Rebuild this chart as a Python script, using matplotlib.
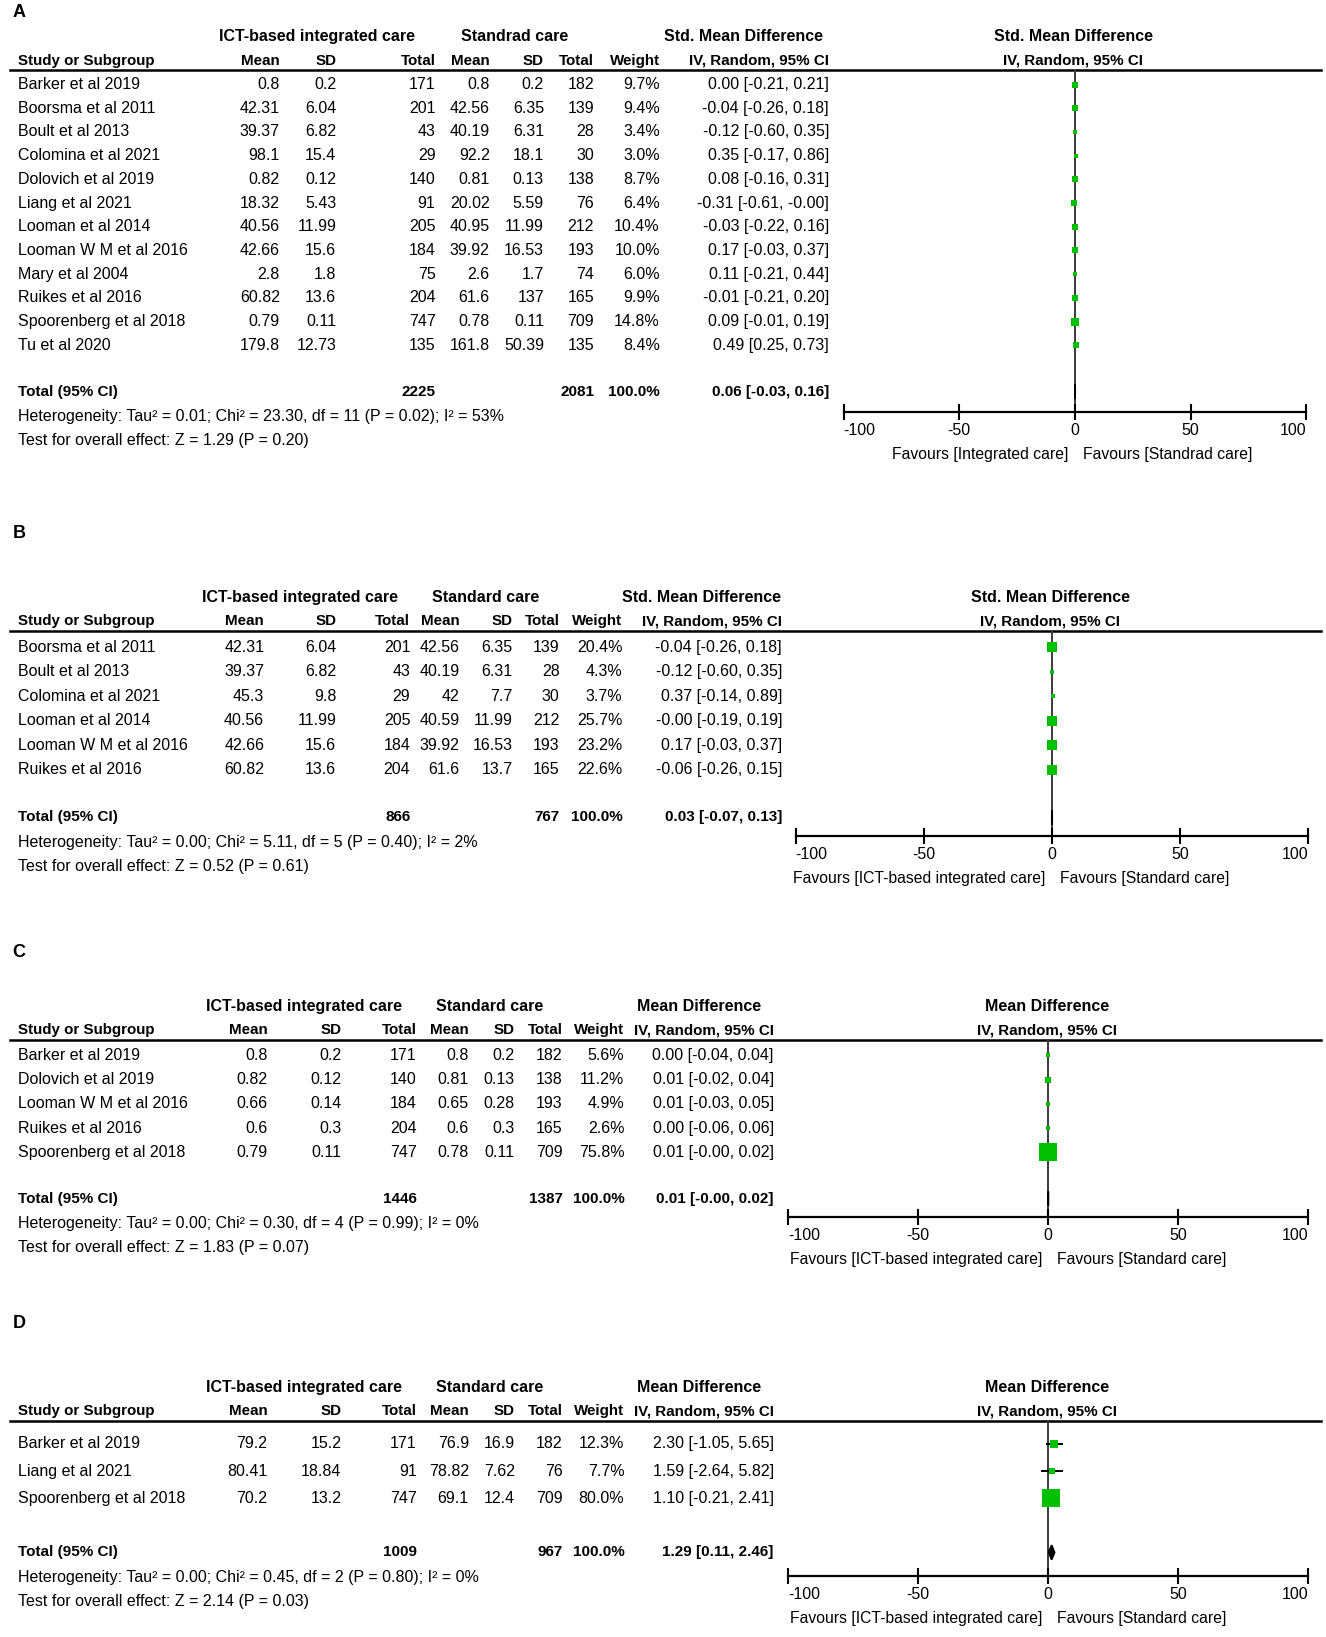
import matplotlib
matplotlib.use("Agg")
import matplotlib.pyplot as plt
from matplotlib.patches import Polygon

plt.rcParams['font.family'] = ['Liberation Sans', 'DejaVu Sans']

GREEN = '#00c000'
FS = 11.5       # body text
FS_GRP = 11.5   # bold group headers (first header row)
FS_HDR = 10.9   # bold column headers
FS_TOT = 11     # bold totals row

# ---- panel A: quality of life (SMD) ----
studies_a = ["Barker et al 2019", "Boorsma et al 2011", "Boult et al 2013", "Colomina et al 2021",
             "Dolovich et al 2019", "Liang et al 2021", "Looman et al 2014", "Looman W M et al 2016",
             "Mary et al 2004", "Ruikes et al 2016", "Spoorenberg et al 2018", "Tu et al 2020"]
ict_mean_a = [0.8, 42.31, 39.37, 98.1, 0.82, 18.32, 40.56, 42.66, 2.8, 60.82, 0.79, 179.8]
ict_sd_a = [0.2, 6.04, 6.82, 15.4, 0.12, 5.43, 11.99, 15.6, 1.8, 13.6, 0.11, 12.73]
ict_n_a = [171, 201, 43, 29, 140, 91, 205, 184, 75, 204, 747, 135]
std_mean_a = [0.8, 42.56, 40.19, 92.2, 0.81, 20.02, 40.95, 39.92, 2.6, 61.6, 0.78, 161.8]
std_sd_a = [0.2, 6.35, 6.31, 18.1, 0.13, 5.59, 11.99, 16.53, 1.7, 137, 0.11, 50.39]
std_n_a = [182, 139, 28, 30, 138, 76, 212, 193, 74, 165, 709, 135]
weight_a = [9.7, 9.4, 3.4, 3.0, 8.7, 6.4, 10.4, 10.0, 6.0, 9.9, 14.8, 8.4]
est_a = [0.00, -0.04, -0.12, 0.35, 0.08, -0.31, -0.03, 0.17, 0.11, -0.01, 0.09, 0.49]
lo_a = [-0.21, -0.26, -0.60, -0.17, -0.16, -0.61, -0.22, -0.03, -0.21, -0.21, -0.01, 0.25]
hi_a = [0.21, 0.18, 0.35, 0.86, 0.31, -0.0, 0.16, 0.37, 0.44, 0.20, 0.19, 0.73]
total_a = [2225, 2081, 0.06, -0.03, 0.16]
het_a = "Heterogeneity: Tau² = 0.01; Chi² = 23.30, df = 11 (P = 0.02); I² = 53%"
test_a = "Test for overall effect: Z = 1.29 (P = 0.20)"

# ---- panel B ----
studies_b = ["Boorsma et al 2011", "Boult et al 2013", "Colomina et al 2021", "Looman et al 2014",
             "Looman W M et al 2016", "Ruikes et al 2016"]
ict_mean_b = [42.31, 39.37, 45.3, 40.56, 42.66, 60.82]
ict_sd_b = [6.04, 6.82, 9.8, 11.99, 15.6, 13.6]
ict_n_b = [201, 43, 29, 205, 184, 204]
std_mean_b = [42.56, 40.19, 42, 40.59, 39.92, 61.6]
std_sd_b = [6.35, 6.31, 7.7, 11.99, 16.53, 13.7]
std_n_b = [139, 28, 30, 212, 193, 165]
weight_b = [20.4, 4.3, 3.7, 25.7, 23.2, 22.6]
est_b = [-0.04, -0.12, 0.37, -0.0, 0.17, -0.06]
lo_b = [-0.26, -0.60, -0.14, -0.19, -0.03, -0.26]
hi_b = [0.18, 0.35, 0.89, 0.19, 0.37, 0.15]
total_b = [866, 767, 0.03, -0.07, 0.13]
het_b = "Heterogeneity: Tau² = 0.00; Chi² = 5.11, df = 5 (P = 0.40); I² = 2%"
test_b = "Test for overall effect: Z = 0.52 (P = 0.61)"

# ---- panel C ----
studies_c = ["Barker et al 2019", "Dolovich et al 2019", "Looman W M et al 2016",
             "Ruikes et al 2016", "Spoorenberg et al 2018"]
ict_mean_c = [0.8, 0.82, 0.66, 0.6, 0.79]
ict_sd_c = [0.2, 0.12, 0.14, 0.3, 0.11]
ict_n_c = [171, 140, 184, 204, 747]
std_mean_c = [0.8, 0.81, 0.65, 0.6, 0.78]
std_sd_c = [0.2, 0.13, 0.28, 0.3, 0.11]
std_n_c = [182, 138, 193, 165, 709]
weight_c = [5.6, 11.2, 4.9, 2.6, 75.8]
est_c = [0.00, 0.01, 0.01, 0.00, 0.01]
lo_c = [-0.04, -0.02, -0.03, -0.06, -0.0]
hi_c = [0.04, 0.04, 0.05, 0.06, 0.02]
total_c = [1446, 1387, 0.01, -0.0, 0.02]
het_c = "Heterogeneity: Tau² = 0.00; Chi² = 0.30, df = 4 (P = 0.99); I² = 0%"
test_c = "Test for overall effect: Z = 1.83 (P = 0.07)"

# ---- panel D ----
studies_d = ["Barker et al 2019", "Liang et al 2021", "Spoorenberg et al 2018"]
ict_mean_d = [79.2, 80.41, 70.2]
ict_sd_d = [15.2, 18.84, 13.2]
ict_n_d = [171, 91, 747]
std_mean_d = [76.9, 78.82, 69.1]
std_sd_d = [16.9, 7.62, 12.4]
std_n_d = [182, 76, 709]
weight_d = [12.3, 7.7, 80.0]
est_d = [2.30, 1.59, 1.10]
lo_d = [-1.05, -2.64, -0.21]
hi_d = [5.65, 5.82, 2.41]
total_d = [1009, 967, 1.29, 0.11, 2.46]
het_d = "Heterogeneity: Tau² = 0.00; Chi² = 0.45, df = 2 (P = 0.80); I² = 0%"
test_d = "Test for overall effect: Z = 2.14 (P = 0.03)"

ticks = [-100, -50, 0, 50, 100]

W, H = 1270, 1568
fig = plt.figure(figsize=(13.26, 16.37), dpi=100)
bg = fig.add_axes([0, 0, 1, 1])
bg.set_xlim(0, W)
bg.set_ylim(H, 0)
bg.axis('off')


def txt(x, y, s, ha='right', size=FS, bold=False):
    bg.text(x, y, s, ha=ha, va='center', fontsize=size,
            fontweight='bold' if bold else 'normal')


def panel(letter, top, cols, grp, hdr, plot_x, ax_y, row0, step, tot_y,
          data, total, het, test, fav):
    (studies, m1, s1, n1, m2, s2, n2, w, est, lo, hi) = data
    txt(12, top, letter, ha='left', size=13, bold=True)
    h1 = top + grp[0]
    h2 = h1 + 23
    txt(grp[1], h1, "ICT-based integrated care", ha='center', size=FS_GRP, bold=True)
    txt(grp[2], h1, grp[3], ha='center', size=FS_GRP, bold=True)
    txt(grp[4], h1, hdr, ha='center', size=FS_GRP, bold=True)
    txt(grp[5], h1, hdr, ha='center', size=FS_GRP, bold=True)
    txt(17, h2, "Study or Subgroup", ha='left', size=FS_HDR, bold=True)
    for x, s in zip(cols, ["Mean", "SD", "Total", "Mean", "SD", "Total", "Weight", "IV, Random, 95% CI"]):
        txt(x, h2, s, size=FS_HDR, bold=True)
    txt(grp[5], h2, "IV, Random, 95% CI", ha='center', size=FS_HDR, bold=True)
    line_y = h2 + 9
    bg.plot([10, 1265], [line_y, line_y], color='black', lw=1.8)

    ys = [row0 + step * i for i in range(len(studies))]
    for i, y in enumerate(ys):
        txt(17, y, studies[i], ha='left')
        vals = [f"{m1[i]:g}", f"{s1[i]:g}", f"{n1[i]}", f"{m2[i]:g}", f"{s2[i]:g}", f"{n2[i]}",
                f"{w[i]:.1f}%", f"{est[i]:.2f} [{lo[i]:.2f}, {hi[i]:.2f}]"]
        for x, s in zip(cols, vals):
            txt(x, y, s)
    txt(17, tot_y, "Total (95% CI)", ha='left', size=FS_TOT, bold=True)
    txt(cols[2], tot_y, f"{total[0]}", size=FS_TOT, bold=True)
    txt(cols[5], tot_y, f"{total[1]}", size=FS_TOT, bold=True)
    txt(cols[6], tot_y, "100.0%", size=FS_TOT, bold=True)
    txt(cols[7], tot_y, f"{total[2]:.2f} [{total[3]:.2f}, {total[4]:.2f}]", size=FS_TOT, bold=True)
    txt(17, tot_y + 24, het, ha='left')
    txt(17, tot_y + 47, test, ha='left')

    # forest plot axes, y in the same pixel units as the table
    x0, x1 = plot_x
    ax = fig.add_axes([x0 / W, 1 - ax_y / H, (x1 - x0) / W, (ax_y - line_y) / H])
    ax.set_xlim(-100, 100)
    ax.set_ylim(ax_y, line_y)
    ax.patch.set_alpha(0)
    for sp in ['top', 'right', 'left']:
        ax.spines[sp].set_visible(False)
    ax.spines['bottom'].set_linewidth(1.6)
    ax.set_yticks([])
    ax.set_xticks(ticks)
    ax.set_xticklabels([f"{t}" for t in ticks])
    ax.tick_params(axis='x', direction='inout', length=11, width=1.5, labelsize=11.5, pad=2)
    labels = ax.get_xticklabels()
    labels[0].set_ha('left')
    labels[-1].set_ha('right')
    ax.axvline(0, color='#3a3a3a', lw=1.4, zorder=1)
    for i, y in enumerate(ys):
        ax.hlines(y, lo[i], hi[i], color='black', lw=1.4, zorder=2)
        side = 2.0 * w[i] ** 0.5 * 0.72
        ax.plot(est[i], y, marker='s', ms=side, color=GREEN, mec=GREEN, mew=0, zorder=3)
    d = Polygon([(total[3], tot_y), (total[2], tot_y - 7), (total[4], tot_y), (total[2], tot_y + 7)],
                closed=True, fc='black', ec='black', lw=1.2, zorder=3)
    ax.add_patch(d)

    xz = x0 + (x1 - x0) / 2
    txt(xz - 6, ax_y + 40, fav[0], size=11.3)
    txt(xz + 8, ax_y + 40, fav[1], ha='left', size=11.3)


panel("A", 12, [268, 322, 417, 469, 521, 569, 632, 794],
      (23, 304, 493, "Standrad care", 712, 1028), "Std. Mean Difference",
      (808, 1251), 395, 81, 22.7, 375,
      (studies_a, ict_mean_a, ict_sd_a, ict_n_a, std_mean_a, std_sd_a, std_n_a,
       weight_a, est_a, lo_a, hi_a), total_a, het_a, test_a,
      ("Favours [Integrated care]", "Favours [Standrad care]"))

panel("B", 511, [253, 322, 393, 440, 491, 536, 596, 749],
      (61, 287, 465, "Standard care", 672, 1006), "Std. Mean Difference",
      (762, 1253), 801, 620, 23.5, 783,
      (studies_b, ict_mean_b, ict_sd_b, ict_n_b, std_mean_b, std_sd_b, std_n_b,
       weight_b, est_b, lo_b, hi_b), total_b, het_b, test_b,
      ("Favours [ICT-based integrated care]", "Favours [Standard care]"))

panel("C", 912, [256, 327, 399, 449, 493, 539, 598, 741],
      (52, 291, 469, "Standard care", 670, 1003), "Mean Difference",
      (755, 1253), 1166, 1011, 23.2, 1148,
      (studies_c, ict_mean_c, ict_sd_c, ict_n_c, std_mean_c, std_sd_c, std_n_c,
       weight_c, est_c, lo_c, hi_c), total_c, het_c, test_c,
      ("Favours [ICT-based integrated care]", "Favours [Standard care]"))

panel("D", 1268, [256, 327, 399, 449, 493, 539, 598, 741],
      (61, 291, 469, "Standard care", 670, 1003), "Mean Difference",
      (755, 1253), 1510, 1383, 26, 1487,
      (studies_d, ict_mean_d, ict_sd_d, ict_n_d, std_mean_d, std_sd_d, std_n_d,
       weight_d, est_d, lo_d, hi_d), total_d, het_d, test_d,
      ("Favours [ICT-based integrated care]", "Favours [Standard care]"))

fig.savefig("out.png", dpi=100)
